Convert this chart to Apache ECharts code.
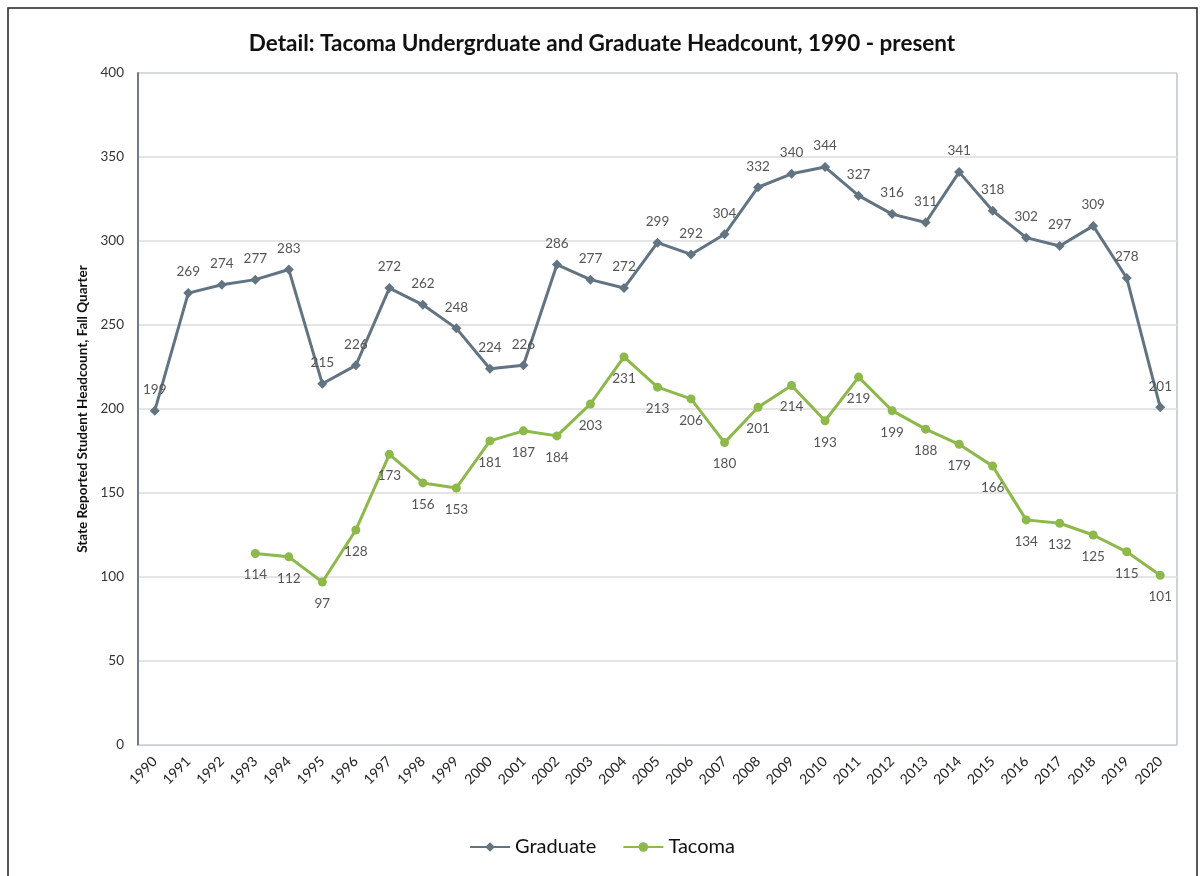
<!DOCTYPE html>
<html>
<head>
<meta charset="utf-8">
<script src="https://cdn.jsdelivr.net/npm/echarts@6/dist/echarts.min.js"></script>
<style>
  html, body { margin: 0; padding: 0; background: #fff; }
  #chart { width: 1204px; height: 876px; }
</style>
</head>
<body>
<div id="chart"></div>
<script>
// years on the x axis
var years = ['1990','1991','1992','1993','1994','1995','1996','1997','1998','1999',
  '2000','2001','2002','2003','2004','2005','2006','2007','2008','2009',
  '2010','2011','2012','2013','2014','2015','2016','2017','2018','2019','2020'];
// graduate headcount
var graduate = [199, 269, 274, 277, 283, 215, 226, 272, 262, 248,
  224, 226, 286, 277, 272, 299, 292, 304, 332, 340,
  344, 327, 316, 311, 341, 318, 302, 297, 309, 278, 201];
// tacoma undergraduate headcount (no data before 1993)
var tacoma = [null, null, null, 114, 112, 97, 128, 173, 156, 153,
  181, 187, 184, 203, 231, 213, 206, 180, 201, 214,
  193, 219, 199, 188, 179, 166, 134, 132, 125, 115, 101];

var myChart = echarts.init(document.getElementById('chart'));
var option = {
    backgroundColor: '#fff',
    title: {
        text: 'Detail: Tacoma Undergrduate and Graduate Headcount, 1990 - present',
        left: 'center',
        top: 27,
        textStyle: { fontFamily: 'Lato', fontSize: 22.5, fontWeight: 'bold', color: '#111' }
    },
    graphic: [{
        type: 'rect',
        shape: { x: 8, y: 8, width: 1189, height: 900 },
        style: { fill: 'none', stroke: '#222', lineWidth: 1.5 },
        silent: true
    }],
    legend: {
        bottom: 14,
        left: 'center',
        itemWidth: 40,
        itemHeight: 12,
        itemGap: 26,
        textStyle: { fontFamily: 'Lato', fontSize: 20, color: '#111' },
        data: ['Graduate', 'Tacoma']
    },
    grid: {
        left: 138, right: 27, top: 73, bottom: 131,
        show: true, borderColor: '#9aa6b1', borderWidth: 1
    },
    xAxis: {
        type: 'category',
        data: years,
        boundaryGap: true,
        axisLine: { lineStyle: { color: '#c8cdd2' } },
        axisTick: { show: false },
        axisLabel: { rotate: 45, fontFamily: 'Lato', fontSize: 14, color: '#222', margin: 14, interval: 0 }
    },
    yAxis: {
        type: 'value',
        min: 0, max: 400, interval: 50,
        name: 'State Reported Student Headcount, Fall Quarter',
        nameLocation: 'middle',
        nameGap: 47,
        nameTextStyle: { fontFamily: 'Lato', fontSize: 13.5, fontWeight: 'bold', color: '#111' },
        axisLine: { show: true, lineStyle: { color: '#6d7c8a', width: 2 } },
        axisTick: { show: false },
        axisLabel: { fontFamily: 'Lato', fontSize: 13.5, color: '#333', margin: 14 },
        splitLine: { lineStyle: { color: '#dcdcdc', width: 1.5 } }
    },
    series: [{
        name: 'Graduate',
        type: 'line',
        data: graduate,
        symbol: 'diamond',
        symbolSize: 10,
        lineStyle: { color: '#627482', width: 3 },
        itemStyle: { color: '#627482' },
        label: { show: true, position: 'top', distance: 9, fontFamily: 'Lato', fontSize: 13.5, color: '#555' }
    }, {
        name: 'Tacoma',
        type: 'line',
        data: tacoma,
        symbol: 'circle',
        symbolSize: 9,
        lineStyle: { color: '#8db84a', width: 3 },
        itemStyle: { color: '#8db84a' },
        label: { show: true, position: 'bottom', distance: 10, fontFamily: 'Lato', fontSize: 13.5, color: '#555' }
    }]
};
myChart.setOption(option);
</script>
</body>
</html>
